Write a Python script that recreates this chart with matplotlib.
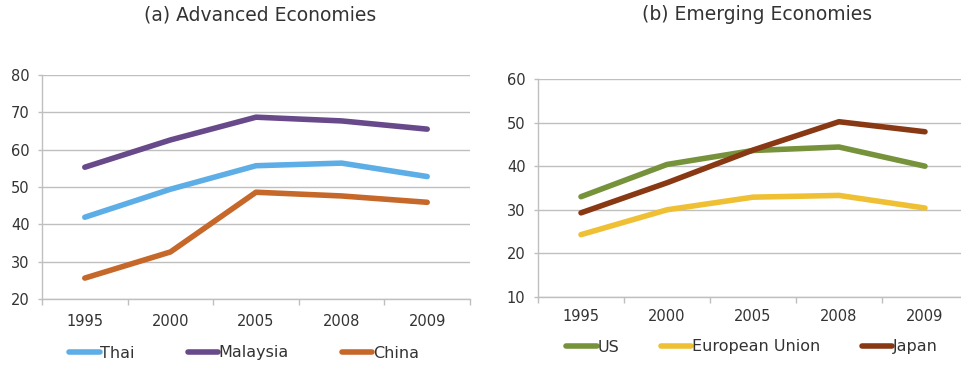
import matplotlib
matplotlib.use("Agg")
import matplotlib.pyplot as plt

years = ["1995", "2000", "2005", "2008", "2009"]

thai = [41.9, 49.4, 55.7, 56.4, 52.8]
malaysia = [55.3, 62.6, 68.7, 67.7, 65.5]
china = [25.6, 32.6, 48.6, 47.6, 45.9]

us = [33.0, 40.4, 43.6, 44.4, 40.0]
eu = [24.3, 30.0, 32.9, 33.3, 30.4]
japan = [29.3, 36.2, 43.7, 50.2, 47.9]

left_ticks = [20, 30, 40, 50, 60, 70, 80]
right_ticks = [10, 20, 30, 40, 50, 60]

grid_c = "#BFBFBF"
txt_c = "#333333"

fig = plt.figure(figsize=(9.62, 3.67), dpi=100)
ax1 = fig.add_axes([42/962, 1-299/367, 428/962, 224/367])
ax2 = fig.add_axes([538/962, 1-297/367, 430/962, 218/367])

def style(ax, ticks, pad):
    ax.set_xlim(-0.5, len(years)-0.5)
    ax.set_ylim(ticks[0], ticks[-1])
    ax.set_yticks(ticks)
    ax.set_xticks(list(range(len(years))))
    ax.set_xticklabels(years)
    ax.set_xticks([i-0.5 for i in range(len(years)+1)], minor=True)
    ax.tick_params(axis="x", which="major", length=0, pad=pad, labelsize=10.5, labelcolor=txt_c)
    ax.tick_params(axis="x", which="minor", length=4, width=1, color=grid_c, direction="out")
    ax.tick_params(axis="y", length=3, width=1, color=grid_c, pad=6, labelsize=10.5, labelcolor=txt_c)
    ax.grid(axis="y", color=grid_c, lw=1)
    ax.set_axisbelow(True)
    for s in ["top", "right"]:
        ax.spines[s].set_visible(False)
    for s in ["left", "bottom"]:
        ax.spines[s].set_color(grid_c)
        ax.spines[s].set_linewidth(1)

lw = 4
x = list(range(len(years)))
ax1.plot(x, thai, color="#5DAEE6", lw=lw, label="Thai", solid_capstyle="round")
ax1.plot(x, malaysia, color="#684A8A", lw=lw, label="Malaysia", solid_capstyle="round")
ax1.plot(x, china, color="#C6682A", lw=lw, label="China", solid_capstyle="round")
style(ax1, left_ticks, 10.5)

ax2.plot(x, us, color="#76933C", lw=lw, label="US", solid_capstyle="round")
ax2.plot(x, eu, color="#EFC034", lw=lw, label="European Union", solid_capstyle="round")
ax2.plot(x, japan, color="#883914", lw=lw, label="Japan", solid_capstyle="round")
style(ax2, right_ticks, 8.5)

fig.text(260/962, 1-15/367, "(a) Advanced Economies", ha="center", va="center", fontsize=13.5, color=txt_c)
fig.text(757/962, 1-15/367, "(b) Emerging Economies", ha="center", va="center", fontsize=13.5, color=txt_c)

l1 = ax1.legend(loc="center", bbox_to_anchor=(244/962, 1-353/367), bbox_transform=fig.transFigure,
                ncol=3, frameon=False, handlelength=1.9, handletextpad=0.05, columnspacing=3.3,
                fontsize=11.5, labelcolor=txt_c, borderpad=0, borderaxespad=0)
l2 = ax2.legend(loc="center", bbox_to_anchor=(752/962, 1-347/367), bbox_transform=fig.transFigure,
                ncol=3, frameon=False, handlelength=1.9, handletextpad=0.05, columnspacing=2.6,
                fontsize=11.5, labelcolor=txt_c, borderpad=0, borderaxespad=0)

fig.savefig("out.png", dpi=100)
